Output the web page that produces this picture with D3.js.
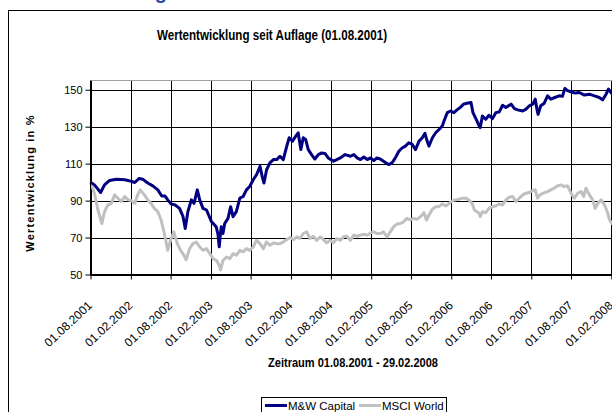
<!DOCTYPE html>
<html><head><meta charset="utf-8">
<script src="https://cdn.jsdelivr.net/npm/d3@7/dist/d3.min.js"></script>
<style>
body{margin:0;background:#fff;}
svg{display:block;font-family:"Liberation Sans",Arial,sans-serif;}
</style>
</head><body>
<svg id="c" width="612" height="412"></svg>
<script>
const chartTitle = "Wertentwicklung seit Auflage (01.08.2001)";
const yTitle = "Wertentwicklung in %";
const xTitle = "Zeitraum 01.08.2001 - 29.02.2008";
const seriesNames = ["M&W Capital", "MSCI World"];
const seriesColors = ["#000080", "#c0c0c0"];
const yTicks = [50, 70, 90, 110, 130, 150];
const xTickLabels = ["01.08.2001","01.02.2002","01.08.2002","01.02.2003","01.08.2003","01.02.2004","01.08.2004",
  "01.02.2005","01.08.2005","01.02.2006","01.08.2006","01.02.2007","01.08.2007","01.02.2008"];

const mwDates = ["2001-08-01","2001-08-19","2001-09-16","2001-10-04","2001-10-27","2001-11-27","2002-01-04","2002-02-04",
"2002-02-19","2002-03-11","2002-03-27","2002-04-19","2002-05-12","2002-06-04","2002-06-22","2002-07-07","2002-07-19",
"2002-08-04","2002-08-22","2002-09-11","2002-09-27","2002-10-07","2002-10-19","2002-11-04","2002-11-16","2002-12-01",
"2002-12-12","2002-12-27","2003-01-12","2003-02-04","2003-02-25","2003-03-05","2003-03-11","2003-03-15","2003-03-20",
"2003-03-28","2003-04-05","2003-04-20","2003-05-02","2003-05-13","2003-05-28","2003-06-13","2003-06-28","2003-07-13",
"2003-07-28","2003-08-13","2003-08-28","2003-09-13","2003-09-23","2003-10-01","2003-10-13","2003-10-28","2003-11-13",
"2003-11-28","2003-12-13","2003-12-28","2004-01-13","2004-01-24","2004-02-08","2004-02-23","2004-03-05","2004-03-17",
"2004-03-28","2004-04-08","2004-04-20","2004-05-05","2004-05-20","2004-06-05","2004-06-20","2004-07-05","2004-07-20",
"2004-08-13","2004-08-28","2004-09-13","2004-10-05","2004-10-29","2004-11-14","2004-11-29","2004-12-14","2004-12-29",
"2005-01-14","2005-01-29","2005-02-13","2005-02-27","2005-03-14","2005-03-29","2005-04-21","2005-05-07","2005-05-22",
"2005-06-07","2005-06-22","2005-07-07","2005-07-22","2005-08-07","2005-08-22","2005-09-07","2005-09-22","2005-10-04",
"2005-10-14","2005-10-22","2005-11-07","2005-11-22","2005-12-07","2005-12-22","2006-01-02","2006-01-14","2006-01-29",
"2006-02-13","2006-02-27","2006-03-14","2006-03-29","2006-04-14","2006-05-02","2006-05-11","2006-05-29","2006-06-08",
"2006-06-13","2006-06-23","2006-07-08","2006-07-23","2006-08-08","2006-08-23","2006-09-08","2006-09-23","2006-10-08",
"2006-11-01","2006-11-16","2006-12-01","2006-12-24","2007-01-08","2007-01-23","2007-02-08","2007-02-19","2007-02-26",
"2007-03-04","2007-03-16","2007-04-01","2007-04-16","2007-05-01","2007-05-19","2007-06-08","2007-06-23","2007-07-04",
"2007-07-16","2007-08-01","2007-08-19","2007-09-08","2007-10-01","2007-10-24","2007-11-16","2007-12-08","2007-12-23",
"2008-01-08","2008-01-19","2008-02-01","2008-02-29"];
const mwValues = [100,98.5,94.4,98.5,100.9,101.6,101.3,100.4,
99.8,102,101.6,99.5,98,95.8,92.5,92.5,90.4,
88.2,87.6,85.8,81.3,74.9,84,90.4,88.5,95.8,
90.4,85.8,84.9,78.5,75.8,72,65,70.4,75.8,
72.2,77.6,80.4,86.7,81.3,84,91.3,92.2,95.8,
97.6,101.3,104,108.5,103,99.5,106.7,110.4,112.2,
112.2,114,112.2,119.5,124,122.2,124.9,126.7,117.6,
124,123.1,117.6,114.9,112.5,114.9,115.8,115.5,113.1,
111.3,112.2,113.1,114.9,114,114.9,113.1,112.2,113.6,
112.2,113.1,111.6,113.1,112.5,111.3,109.5,110.4,113.1,
116.7,118.5,119.5,121.3,120.4,117.6,122.2,124,126.4,
122.2,119.5,124,126.7,128.5,130.4,134,137.6,138.5,
137.6,139.1,140.4,142.2,142.7,143.1,137.6,133.1,130.4,
129.5,135.8,134,136.2,134.4,137.6,138,141.6,140.4,
142.2,139.8,139.1,138.5,139.5,141.3,142.2,144.9,139.8,
136.7,141.3,142.7,146.7,144.9,145.8,146.7,146.4,150.7,
149.5,148.9,148.2,148.5,147.1,147.6,146.7,145.8,144.5,
147.6,150.4,148.2,147];

const msciDates = ["2001-08-01","2001-08-19","2001-09-04","2001-09-22","2001-10-04","2001-10-19","2001-11-04","2001-11-19",
"2001-12-04","2001-12-19","2002-01-04","2002-01-19","2002-02-04","2002-02-19","2002-03-04","2002-03-16","2002-04-04",
"2002-04-19","2002-05-04","2002-05-19","2002-06-04","2002-06-19","2002-07-04","2002-07-19","2002-08-01","2002-08-16",
"2002-09-01","2002-09-16","2002-10-01","2002-10-11","2002-10-27","2002-11-11","2002-11-27","2002-12-12","2002-12-27",
"2003-01-12","2003-01-27","2003-02-12","2003-02-27","2003-03-11","2003-03-17","2003-03-28","2003-04-13","2003-04-28",
"2003-05-13","2003-05-28","2003-06-13","2003-06-28","2003-07-13","2003-07-28","2003-08-13","2003-08-28","2003-09-13",
"2003-09-28","2003-10-13","2003-10-28","2003-11-13","2003-11-28","2003-12-13","2003-12-28","2004-01-13","2004-01-28",
"2004-02-13","2004-02-28","2004-03-13","2004-03-28","2004-04-13","2004-04-28","2004-05-13","2004-05-28","2004-06-13",
"2004-06-28","2004-07-13","2004-07-28","2004-08-13","2004-08-28","2004-09-13","2004-09-28","2004-10-13","2004-10-29",
"2004-11-14","2004-11-29","2004-12-14","2004-12-29","2005-01-14","2005-01-29","2005-02-13","2005-02-27","2005-03-14",
"2005-03-29","2005-04-14","2005-04-29","2005-05-14","2005-05-29","2005-06-14","2005-06-29","2005-07-14","2005-07-29",
"2005-08-14","2005-08-29","2005-09-14","2005-09-29","2005-10-11","2005-10-22","2005-11-07","2005-11-22","2005-12-07",
"2005-12-22","2006-01-07","2006-01-22","2006-02-07","2006-02-22","2006-03-07","2006-03-22","2006-04-07","2006-04-22",
"2006-05-07","2006-05-18","2006-06-08","2006-06-13","2006-06-23","2006-07-08","2006-07-23","2006-08-08","2006-08-23",
"2006-09-08","2006-09-23","2006-10-08","2006-10-23","2006-11-08","2006-11-23","2006-12-08","2006-12-24","2007-01-08",
"2007-01-23","2007-02-08","2007-02-19","2007-03-01","2007-03-13","2007-03-28","2007-04-16","2007-05-01","2007-05-16",
"2007-06-01","2007-06-16","2007-07-01","2007-07-16","2007-08-01","2007-08-16","2007-09-01","2007-09-16","2007-09-28",
"2007-10-08","2007-10-24","2007-11-08","2007-11-19","2007-12-01","2007-12-16","2008-01-01","2008-01-13","2008-01-24",
"2008-02-04","2008-02-29"];
const msciValues = [100,94,84.9,77.6,84,87.6,88.5,93.1,
91.3,89.5,92.2,90.4,90,88.5,93.1,95.8,93.1,
90.4,88.5,85.8,84,79.5,72.2,63.1,68.5,73.1,
66.7,63.1,60.4,58,64,66.7,67.6,64.9,63.1,
64,61.3,58.5,57.6,54.9,52.5,57.6,59.5,58.5,
61.3,60.4,63.1,62.2,64,63.1,64.9,68.5,66.7,
64,67.6,65.8,67.1,66.7,66.7,67.6,68.9,70,
68.9,70.4,69.5,72.2,73.1,69.5,70.7,68.5,70.4,
68.9,67.1,68.5,67.1,69.5,68.5,70.4,70.7,68.5,
71.3,70.7,71.3,71.8,71.3,72.5,73.1,72.2,72.2,
73.1,70.4,73.1,75.8,77.3,77.6,78.5,80.4,79.5,
80.4,79.8,81.3,83.5,79.5,82.2,85.3,86.7,86.7,
88.2,87.1,88.5,90,90.4,90.7,91.3,91.3,90.4,
88.5,84.9,83.1,81.3,84,83.5,85.8,86.7,87.1,
88.2,87.6,90.4,91.8,92.2,89.5,91.3,93.1,94,
94.4,95.5,95.8,91.3,93.1,94,94.9,95.8,96.7,
98,98.5,97.6,98,94,91.3,94,94.9,92.2,
96.7,93.1,90.4,85.8,88.5,90.4,87.6,84,79.5,
77.6,78];

const parseIso = d3.utcParse("%Y-%m-%d");
const parseDe = d3.utcParse("%d.%m.%Y");
const series = [
  {name: seriesNames[0], color: seriesColors[0], pts: mwDates.map((d,i)=>({d: parseIso(d), v: mwValues[i]}))},
  {name: seriesNames[1], color: seriesColors[1], pts: msciDates.map((d,i)=>({d: parseIso(d), v: msciValues[i]}))}
];
const tickDates = xTickLabels.map(parseDe);

const svg = d3.select("#c");
const L = 90.5, T = 80.5, B = 274.5, R = 617.5;
const x = d3.scaleUtc().domain([parseDe("01.08.2001"), parseDe("29.02.2008")]).range([L, R]);
const y = d3.scaleLinear().domain([50, 155]).range([B, T]);

// partial heading above the chart frame
svg.append("text").attr("x", 167).attr("y", -1).attr("text-anchor", "end")
  .attr("font-size", 20).attr("font-weight", "bold").attr("fill", "#1f4e9c").text("Wertentwicklung");

// outer chart frame
svg.append("rect").attr("x", 8.5).attr("y", 10.5).attr("width", 700).attr("height", 500)
  .attr("fill", "#fff").attr("stroke", "#000").attr("stroke-width", 1);

// title
svg.append("text").attr("x", 272).attr("y", 40).attr("text-anchor", "middle")
  .attr("font-size", 14.5).attr("font-weight", "bold").attr("fill", "#000")
  .attr("textLength", 230).attr("lengthAdjust", "spacingAndGlyphs").text(chartTitle);

const g = svg.append("g");
// horizontal gridlines
g.selectAll("line.hg").data(yTicks).join("line").attr("class","hg")
  .attr("x1", L).attr("x2", 612).attr("y1", d => Math.round(y(d)) + 0.5).attr("y2", d => Math.round(y(d)) + 0.5)
  .attr("stroke", "#000").attr("stroke-width", 1);
// vertical gridlines
g.selectAll("line.vg").data(tickDates).join("line").attr("class","vg")
  .attr("x1", d => Math.round(x(d)) + 0.5).attr("x2", d => Math.round(x(d)) + 0.5)
  .attr("y1", T).attr("y2", B).attr("stroke", "#000").attr("stroke-width", 1);
// plot top border
g.append("line").attr("x1", L).attr("x2", 612).attr("y1", T).attr("y2", T).attr("stroke", "#a0a0a0");

// lines
const line = d3.line().x(p => x(p.d)).y(p => y(p.v));
svg.selectAll("path.s").data(series.slice().reverse()).join("path").attr("class","s")
  .attr("d", s => line(s.pts)).attr("fill", "none").attr("stroke", s => s.color)
  .attr("stroke-width", 3).attr("stroke-linejoin", "round");

// axes
const yAxis = svg.append("g").attr("transform", `translate(${L},0)`)
  .call(d3.axisLeft(y).tickValues(yTicks).tickSize(5).tickPadding(3).tickFormat(d3.format("d")));
const xAxis = svg.append("g").attr("transform", `translate(0,${B})`)
  .call(d3.axisBottom(x).tickValues(tickDates).tickSize(5).tickFormat((d,i) => xTickLabels[i]));
[yAxis, xAxis].forEach(a => {
  a.select(".domain").remove();
  a.selectAll("line").attr("stroke", "#000");
  a.selectAll("text").attr("font-family", "'Liberation Sans',Arial,sans-serif").attr("font-size", 11).attr("fill", "#000");
});
svg.append("line").attr("x1", L).attr("x2", L).attr("y1", T).attr("y2", B + 0.5).attr("stroke", "#000");
svg.append("line").attr("x1", L).attr("x2", 612).attr("y1", B).attr("y2", B).attr("stroke", "#000");
xAxis.selectAll("text").attr("text-anchor", "end").attr("dy", null).attr("y", 0).attr("font-size", 12)
  .attr("transform", "translate(2,32) rotate(-43)");

// y title
svg.append("text").attr("transform", "translate(34,183) rotate(-90)").attr("text-anchor", "middle")
  .attr("font-size", 11).attr("font-weight", "bold").attr("letter-spacing", 1.2).text(yTitle);
// x title
svg.append("text").attr("x", 353).attr("y", 367).attr("text-anchor", "middle")
  .attr("font-size", 12).attr("font-weight", "bold").attr("textLength", 170)
  .attr("lengthAdjust", "spacingAndGlyphs").text(xTitle);

// legend
const lg = svg.append("g");
lg.append("rect").attr("x", 261.5).attr("y", 397.5).attr("width", 185).attr("height", 30)
  .attr("fill", "#fff").attr("stroke", "#000");
const legX = [265, 359];
series.forEach((s, i) => {
  lg.append("line").attr("x1", legX[i]).attr("x2", legX[i] + 22).attr("y1", 405.5).attr("y2", 405.5)
    .attr("stroke", s.color).attr("stroke-width", 3);
  lg.append("text").attr("x", legX[i] + 23).attr("y", 409.5).attr("font-size", 11.5).text(s.name);
});
</script>
</body></html>
